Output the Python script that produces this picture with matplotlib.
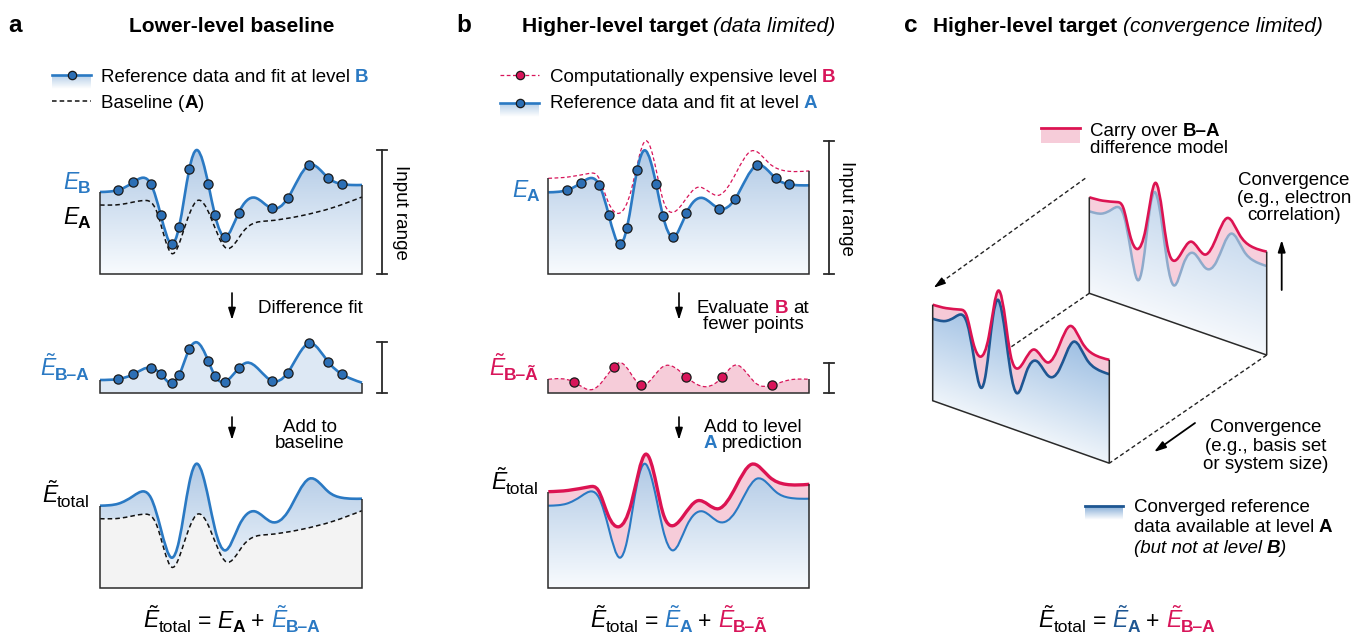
import numpy as np
import matplotlib
matplotlib.use('Agg')
import matplotlib.pyplot as plt
from matplotlib.path import Path
from matplotlib.patches import PathPatch, Rectangle
from matplotlib.transforms import Affine2D
from matplotlib.colors import to_rgb

plt.rcParams['font.family'] = ['Liberation Sans', 'DejaVu Sans']
plt.rcParams['mathtext.fontset'] = 'custom'
plt.rcParams['mathtext.rm'] = 'Liberation Sans'
plt.rcParams['mathtext.it'] = 'Liberation Sans:italic'
plt.rcParams['mathtext.bf'] = 'Liberation Sans:bold'
plt.rcParams['mathtext.sf'] = 'Liberation Sans'

# ---------------- data (u: position along a box, h: height above the box floor) ----
# reference curve (E_B in a, E_A in b, level-A surface in c)
ref_u = [0, 10, 18.3, 33.3, 43.3, 51, 60.7, 71.7, 79, 89.3, 96.7, 103, 108.3, 115,
         125, 138.7, 155, 171.7, 187.7, 209.3, 228.3, 241.7, 252, 262]
ref_h = [82, 82.5, 84, 91.7, 96.3, 89.7, 59.3, 30, 46.7, 104.7, 124, 112, 90, 58.7,
         37.3, 61.3, 76.3, 65.7, 75.7, 109, 96, 90, 89, 89]
# sampled reference points
dot_u = [18.3, 33.3, 51, 60.7, 71.7, 79, 89.3, 108.3, 115, 125, 138.7, 171.7, 187.7,
         209.3, 228.3, 241.7]
dot_h = [84, 91.7, 89.7, 59.3, 30, 46.7, 104.7, 90, 58.7, 37.3, 61.3, 65.7, 75.7,
         109, 96, 90]
# lower-level baseline A (panel a)
base_u = [0, 20, 43.3, 56.7, 71.7, 83.3, 97.5, 110, 126, 143.3, 166.7, 200, 233.3, 262]
base_h = [69, 69.5, 73.5, 62.5, 20.5, 42.5, 73.5, 58.5, 26, 42.5, 53, 58, 66.5, 77]
# difference model B-A (panel a)
diffa_u = [0, 18.3, 33.3, 51, 60.7, 71.7, 79, 89.3, 96.7, 108.3, 115, 125, 138.7,
           146.7, 171.7, 187.7, 209.3, 228.3, 241.7, 262]
diffa_h = [12.7, 13.7, 18.4, 25, 18.7, 9.4, 17.4, 43.4, 50.4, 31.7, 16.7, 11, 24.4,
           30, 12, 20, 49.4, 30.7, 18.7, 10]
diffa_dot_h = [13.7, 18.4, 25, 18.7, 9.4, 17.4, 43.4, 31.7, 16.7, 11, 24.4, 12, 20,
               49.4, 30.7, 18.7]
# expensive level B (panel b / c)
levB_u = [0, 20, 41.7, 50, 60, 71, 83.3, 97.7, 108.3, 115, 122, 135, 150, 171,
          188.3, 204, 221.7, 238.3, 262]
levB_h = [96, 97.3, 101, 97.6, 72.6, 61, 84.3, 133.5, 104.3, 75, 62.5, 71, 87, 79,
          101, 123.4, 111, 103.4, 103.4]
# difference model B - A~ (panel b)
diffb_u = [0, 25.7, 45, 66, 71.7, 92.7, 115, 138.4, 158.4, 174.4, 188.4, 208.4, 225,
           241.7, 262]
diffb_h = [13.4, 10.7, 3.4, 26, 30, 7.7, 26, 16, 6, 15.4, 27.7, 9.4, 7.7, 12.7, 13.4]
diffb_dot_u = [25.7, 66, 92.7, 138.4, 174.4, 225]
diffb_dot_h = [10.7, 26, 7.7, 16, 15.4, 7.7]

# ---------------- styles ----------------
BLUE = '#2a79c3'
BLUE_DOT = '#2c6fb5'
CRIMSON = '#d8155a'
RED = '#dc1352'
PINK = '#f6ccd9'
NAVY = '#1e5692'
EDGE = '#2a2a2a'
W = 262
TS = 13.5     # annotation text size
ES = 16.5     # symbol size
SS = 12.5     # subscript size

fig = plt.figure(figsize=(13.54, 6.37), dpi=100)
ax = fig.add_axes([0, 0, 1, 1])
ax.set_xlim(0, 1354)
ax.set_ylim(637, 0)
ax.axis('off')
R = fig.canvas.get_renderer()


def spline_slopes(u, h):
    """slopes of a natural cubic spline through the read points (rendering only)"""
    u = np.asarray(u, float); h = np.asarray(h, float)
    n = len(u)
    du = np.diff(u); d = np.diff(h) / du
    A = np.zeros((n, n)); b = np.zeros(n)
    A[0, 0] = A[-1, -1] = 1.0
    for i in range(1, n - 1):
        A[i, i - 1] = du[i - 1]; A[i, i] = 2 * (du[i - 1] + du[i]); A[i, i + 1] = du[i]
        b[i] = 6 * (d[i] - d[i - 1])
    M = np.linalg.solve(A, b)
    m = np.zeros(n)
    m[:-1] = d - du * (2 * M[:-1] + M[1:]) / 6
    m[-1] = d[-1] + du[-1] * (M[-2] + 2 * M[-1]) / 6
    return m


def segments(u, h):
    u = np.asarray(u, float); h = np.asarray(h, float)
    m = spline_slopes(u, h)
    segs = []
    for i in range(len(u) - 1):
        du = u[i + 1] - u[i]
        segs.append(((u[i], h[i]), (u[i] + du / 3, h[i] + m[i] * du / 3),
                     (u[i + 1] - du / 3, h[i + 1] - m[i + 1] * du / 3), (u[i + 1], h[i + 1])))
    return segs


def curve_vc(u, h):
    segs = segments(u, h)
    v = [segs[0][0]]; c = [Path.MOVETO]
    for p1, c1, c2, p2 in segs:
        v += [c1, c2, p2]; c += [Path.CURVE4] * 3
    return v, c


def area_path(upper, lower=None):
    uu, uh = upper
    v, c = curve_vc(uu, uh)
    if lower is None:
        v += [(uu[-1], 0), (uu[0], 0), v[0]]
        c += [Path.LINETO, Path.LINETO, Path.CLOSEPOLY]
    else:
        ls = segments(*lower)
        v.append(ls[-1][3]); c.append(Path.LINETO)
        for p1, c1, c2, p2 in reversed(ls):
            v += [c2, c1, p1]; c += [Path.CURVE4] * 3
        v.append(v[0]); c.append(Path.CLOSEPOLY)
    return Path(v, c)


def box_aff(x0, yb, sx=1.0, k=0.0):
    return Affine2D(np.array([[sx, 0, x0], [k * sx, -1, yb], [0, 0, 1.0]]))


def box_tr(x0, yb, sx=1.0, k=0.0):
    return box_aff(x0, yb, sx, k) + ax.transData


def gradient(path, geom, Hmax, c_top, c_bot, z, hmin=0.0):
    x0, yb, sx, k = geom
    tr = box_tr(*geom)
    X0, X1 = x0 - 1, x0 + W * sx + 1
    Yt, Yb = yb - Hmax - 14, yb + k * W * sx + 2
    X = np.linspace(X0, X1, int(X1 - X0) + 2)
    Y = np.linspace(Yt, Yb, int(Yb - Yt) + 2)
    XX, YY = np.meshgrid(X, Y)
    hh = yb + k * (XX - x0) - YY
    t = np.clip((hh - hmin) / (Hmax - hmin), 0, 1)[..., None]
    img = np.array(to_rgb(c_bot)) * (1 - t) + np.array(to_rgb(c_top)) * t
    im = ax.imshow(img, extent=(X0, X1, Yb, Yt), origin='upper',
                   interpolation='bilinear', zorder=z, aspect='auto')
    patch = PathPatch(path, transform=tr, facecolor='none', edgecolor='none')
    ax.add_patch(patch)
    im.set_clip_path(patch)


def fill(path, geom, color, z):
    ax.add_patch(PathPatch(path, transform=box_tr(*geom), facecolor=color,
                           edgecolor='none', zorder=z))


def line(u, h, geom, color, lw, ls='-', z=3):
    v, c = curve_vc(u, h)
    ax.add_patch(PathPatch(Path(v, c), transform=box_tr(*geom), facecolor='none',
                           edgecolor=color, lw=lw, linestyle=ls, zorder=z,
                           capstyle='butt', joinstyle='round'))


def outline(geom, hl, hr, z=4, lw=1.1):
    p = Path([(0, hl), (0, 0), (W, 0), (W, hr)],
             [Path.MOVETO, Path.LINETO, Path.LINETO, Path.LINETO])
    ax.add_patch(PathPatch(p, transform=box_tr(*geom), facecolor='none',
                           edgecolor=EDGE, lw=lw, zorder=z, joinstyle='miter'))


def dots(u, h, geom, face, z=6):
    ax.plot(u, h, 'o', transform=box_tr(*geom), ms=6.6, mfc=face, mec='#1a1a1a',
            mew=0.9, zorder=z, clip_on=False)


def measure(s, **kw):
    t = ax.text(0, 0, s, **kw)
    w = t.get_window_extent(renderer=R).width
    t.remove()
    return w


def rich(x, y, pieces, ha='left', size=TS):
    items = []
    total = 0.0
    for s, kw in pieces:
        kw = dict(kw); kw.setdefault('fontsize', size)
        dy = kw.pop('dy', 0.0)
        dx = kw.pop('dx', 0.0)
        core = s.strip(' ')
        lead = len(s) - len(s.lstrip(' ')); trail = len(s) - len(s.rstrip(' '))
        sw = 0.0
        if lead or trail:
            mk = {k: v for k, v in kw.items() if k != 'color'}
            sw = measure('| |', **mk) - measure('||', **mk)
        w = measure(core, **kw) if core else 0.0
        items.append((core, kw, dy, dx + lead * sw, w, trail * sw))
        total += dx + lead * sw + w + trail * sw
    cx = x - total / 2 if ha == 'center' else (x - total if ha == 'right' else x)
    for core, kw, dy, l, w, t in items:
        cx += l
        if core:
            ax.text(cx, y + dy, core, ha='left', va='baseline', **kw)
        cx += w + t


def sym(tilde, sub, color='black', bold=True):
    """pieces for an energy symbol E / E~ with a subscript"""
    e = r'$\tilde{E}$' if tilde else r'$E$'
    return [(e, dict(color=color, fontsize=ES)),
            (sub, dict(color=color, fontsize=SS, fontweight='bold' if bold else 'normal',
                       dy=4.0, dx=-2.5))]


def grad_rect(x0, x1, y0, y1, c_top, c_bot, z=2):
    n = 20
    t = np.linspace(1, 0, n)[:, None, None]
    img = np.array(to_rgb(c_bot)) * (1 - t) + np.array(to_rgb(c_top)) * t
    img = np.repeat(img, 2, axis=1)
    ax.imshow(img, extent=(x0, x1, y1, y0), origin='upper', interpolation='bilinear',
              zorder=z, aspect='auto')


def arrow(x0, y0, x1, y1, lw=1.2, ls='-'):
    ax.annotate('', xy=(x1, y1), xytext=(x0, y0),
                arrowprops=dict(arrowstyle='-|>,head_length=0.7,head_width=0.22',
                                color='black', lw=lw, linestyle=ls, shrinkA=0, shrinkB=0))


def bracket(x, ytop, ybot):
    ax.plot([x, x], [ytop, ybot], color=EDGE, lw=1.3)
    ax.plot([x - 5, x + 5], [ytop, ytop], color=EDGE, lw=1.3)
    ax.plot([x - 5, x + 5], [ybot, ybot], color=EDGE, lw=1.3)


GT, GB = '#b0c9e5', '#f8fbfe'
DASH = (0, (3.0, 2.0))

# ===================== panel a =====================
ga1 = (100, 274, 1.0, 0.0)
gradient(area_path((ref_u, ref_h)), ga1, 125, GT, GB, 1)
line(base_u, base_h, ga1, '#111111', 1.1, DASH)
line(ref_u, ref_h, ga1, BLUE, 1.9)
dots(dot_u, dot_h, ga1, BLUE_DOT)
outline(ga1, ref_h[0], ref_h[-1])
bracket(382, 274 - max(ref_h), 274)

ga2 = (100, 392.7, 1.0, 0.0)
fill(area_path((diffa_u, diffa_h)), ga2, '#dde8f4', 1)
line(diffa_u, diffa_h, ga2, BLUE, 1.9)
dots(dot_u, diffa_dot_h, ga2, BLUE_DOT)
outline(ga2, diffa_h[0], diffa_h[-1])
bracket(382, 392.7 - max(diffa_h), 392.7)

ga3 = (100, 587.7, 1.0, 0.0)
fill(area_path((base_u, base_h)), ga3, '#f3f3f3', 1)
gradient(area_path((ref_u, ref_h), (base_u, base_h)), ga3, 125, GT, GB, 1)
line(base_u, base_h, ga3, '#111111', 1.1, DASH)
line(ref_u, ref_h, ga3, BLUE, 1.9)
outline(ga3, ref_h[0], ref_h[-1])

# ===================== panel b =====================
sb = 261.0 / 262.0
gb1 = (548.3, 274.3, sb, 0.0)
gradient(area_path((ref_u, ref_h)), gb1, 125, GT, GB, 1)
line(levB_u, levB_h, gb1, CRIMSON, 0.9, DASH)
line(ref_u, ref_h, gb1, BLUE, 1.9)
dots(dot_u, dot_h, gb1, BLUE_DOT)
outline(gb1, levB_h[0], levB_h[-1])
bracket(828.5, 274.3 - max(levB_h), 274.3)

gb2 = (548.3, 392.7, sb, 0.0)
fill(area_path((diffb_u, diffb_h)), gb2, PINK, 1)
line(diffb_u, diffb_h, gb2, CRIMSON, 0.9, DASH)
dots(diffb_dot_u, diffb_dot_h, gb2, CRIMSON)
outline(gb2, diffb_h[0], diffb_h[-1])
bracket(829, 392.7 - max(diffb_h), 392.7)

gb3 = (548.3, 587.7, sb, 0.0)
gradient(area_path((ref_u, ref_h)), gb3, 125, GT, GB, 1)
fill(area_path((levB_u, levB_h), (ref_u, ref_h)), gb3, PINK, 2)
line(ref_u, ref_h, gb3, BLUE, 1.5)
line(levB_u, levB_h, gb3, RED, 2.4)
outline(gb3, levB_h[0], levB_h[-1])

# ===================== panel c =====================
gback = (1089.3, 293.3, 177.4 / 262.0, 0.348)
gfront = (932.7, 400.7, 176.6 / 262.0, 0.354)

gradient(area_path((ref_u, ref_h)), gback, 125, '#c3d7ed', '#f5f8fc', 1)
fill(area_path((levB_u, levB_h), (ref_u, ref_h)), gback, '#f7cfdc', 2)
line(ref_u, ref_h, gback, '#8eaacb', 1.8)
line(levB_u, levB_h, gback, RED, 1.9)
outline(gback, levB_h[0], levB_h[-1])

ab = box_aff(*gback); af = box_aff(*gfront)
bl_b, br_b = ab.transform((0, 0)), ab.transform((W, 0))
bl_f, br_f = af.transform((0, 0)), af.transform((W, 0))
tl_b, tl_f = ab.transform((0, levB_h[0])), af.transform((0, levB_h[0]))
ax.plot([bl_b[0], bl_f[0]], [bl_b[1], bl_f[1]], color='#222222', lw=1.0, ls=DASH, zorder=3)
ax.plot([br_b[0], br_f[0]], [br_b[1], br_f[1]], color='#222222', lw=1.0, ls=DASH, zorder=3)
s0 = (tl_b[0] - 4, tl_b[1] - 19)
e0 = (tl_f[0] + 1, tl_f[1] - 17)
ax.plot([s0[0], e0[0] + 8], [s0[1], e0[1] - 5.8], color='#222222', lw=1.0, ls=DASH, zorder=3)
arrow(e0[0] + 10, e0[1] - 7.2, e0[0], e0[1], lw=1.0)

gradient(area_path((ref_u, ref_h)), gfront, 125, '#93b8e0', '#eef4fa', 5)
fill(area_path((levB_u, levB_h), (ref_u, ref_h)), gfront, '#f5c9d7', 6)
line(ref_u, ref_h, gfront, NAVY, 1.9, z=7)
line(levB_u, levB_h, gfront, RED, 1.9, z=7)
outline(gfront, levB_h[0], levB_h[-1], z=8)

arrow(1281.7, 290, 1281.7, 240, lw=1.3)
arrow(1195, 423, 1154, 452, lw=1.3)

# ===================== arrows a/b =====================
arrow(232, 293, 232, 320)
arrow(232, 417, 232, 440)
arrow(679, 293, 679, 320)
arrow(679, 417, 679, 440)

# ===================== legends =====================
# panel a
grad_rect(52, 91, 76, 89, '#bcd3ea', '#ffffff')
ax.plot([52, 91], [75, 75], color=BLUE, lw=1.9, zorder=3)
ax.plot([71.5], [75], 'o', ms=6.0, mfc=BLUE_DOT, mec='#1a1a1a', mew=0.9, zorder=4)
ax.plot([52, 91], [101, 101], color='#111111', lw=1.1, ls=DASH)
rich(101, 82, [('Reference data and fit at level ', {}),
               ('B', dict(color=BLUE, fontweight='bold'))])
rich(101, 108, [('Baseline (', {}), ('A', dict(fontweight='bold')), (')', {})])

# panel b
ax.plot([500, 539], [75, 75], color=CRIMSON, lw=0.9, ls=DASH)
ax.plot([519.5], [75], 'o', ms=6.0, mfc=CRIMSON, mec='#1a1a1a', mew=0.9, zorder=4)
grad_rect(500, 539, 104, 117, '#bcd3ea', '#ffffff')
ax.plot([500, 539], [103, 103], color=BLUE, lw=1.9, zorder=3)
ax.plot([519.5], [103], 'o', ms=6.0, mfc=BLUE_DOT, mec='#1a1a1a', mew=0.9, zorder=4)
rich(549.5, 82, [('Computationally expensive level ', {}),
                 ('B', dict(color=CRIMSON, fontweight='bold'))])
rich(549.5, 108, [('Reference data and fit at level ', {}),
                  ('A', dict(color=BLUE, fontweight='bold'))])

# panel c
ax.add_patch(Rectangle((1041, 129.5), 39, 13, facecolor=PINK, edgecolor='none'))
ax.plot([1041, 1080], [128, 128], color=RED, lw=2.0)
rich(1089.5, 136, [('Carry over ', {}), ('B–A', dict(fontweight='bold'))])
rich(1089.5, 153, [('difference model', {})])

grad_rect(1085, 1123, 507, 520, '#8fb3da', '#ffffff')
ax.plot([1085, 1123], [505.7, 505.7], color=NAVY, lw=2.0, zorder=3)
rich(1133.5, 512, [('Converged reference', {})])
rich(1133.5, 532, [('data available at level ', {}), ('A', dict(fontweight='bold'))])
rich(1133.5, 553, [('(but not at level ', dict(fontstyle='italic')),
                   ('B', dict(fontstyle='italic', fontweight='bold')),
                   (')', dict(fontstyle='italic'))])

# ===================== titles =====================
for x, s in [(8, 'a'), (456, 'b'), (904, 'c')]:
    ax.text(x, 32, s, fontsize=17.5, fontweight='bold', va='baseline', ha='left')
rich(232, 32, [('Lower-level baseline', dict(fontweight='bold'))], ha='center', size=15)
rich(521.5, 32, [('Higher-level target ', dict(fontweight='bold')),
                 ('(data limited)', dict(fontstyle='italic'))], size=15.2)
rich(933, 32, [('Higher-level target ', dict(fontweight='bold')),
               ('(convergence limited)', dict(fontstyle='italic'))], size=15)

# ===================== annotations =====================
ax.text(400, 212, 'Input range', rotation=270, ha='center', va='center', fontsize=TS)
ax.text(847, 208, 'Input range', rotation=270, ha='center', va='center', fontsize=TS)
rich(258, 313, [('Difference fit', {})])
rich(310, 432, [('Add to', {})], ha='center')
rich(310, 448, [('baseline', {})], ha='center')
rich(753, 313, [('Evaluate ', {}), ('B', dict(color=CRIMSON, fontweight='bold')),
                (' at', {})], ha='center')
rich(753, 329, [('fewer points', {})], ha='center')
rich(753, 432, [('Add to level', {})], ha='center')
rich(753, 448, [('A', dict(color=BLUE, fontweight='bold')), (' prediction', {})], ha='center')
rich(1294, 185, [('Convergence', {})], ha='center')
rich(1294, 203, [('(e.g., electron', {})], ha='center')
rich(1294, 220, [('correlation)', {})], ha='center')
rich(1266, 432, [('Convergence', {})], ha='center')
rich(1266, 451, [('(e.g., basis set', {})], ha='center')
rich(1266, 469, [('or system size)', {})], ha='center')

# axis-style labels
rich(90, 189, sym(False, 'B', BLUE), ha='right')
rich(90, 224, sym(False, 'A', 'black'), ha='right')
rich(90, 376, sym(True, 'B–A', BLUE), ha='right')
rich(90, 503, sym(True, 'total', 'black', bold=False), ha='right')
rich(539, 197, sym(False, 'A', BLUE), ha='right')
rich(539, 376, sym(True, 'B–Ã', CRIMSON), ha='right')
rich(539, 490, sym(True, 'total', 'black', bold=False), ha='right')

# formulas
EQ = dict(fontsize=ES)
rich(232, 628, sym(True, 'total', bold=False) + [(' = ', EQ)] + sym(False, 'A')
     + [(' + ', EQ)] + sym(True, 'B–A', BLUE), ha='center')
rich(679, 628, sym(True, 'total', bold=False) + [(' = ', EQ)] + sym(True, 'A', BLUE)
     + [(' + ', EQ)] + sym(True, 'B–Ã', CRIMSON), ha='center')
rich(1127, 628, sym(True, 'total', bold=False) + [(' = ', EQ)] + sym(True, 'A', NAVY)
     + [(' + ', EQ)] + sym(True, 'B–A', CRIMSON), ha='center')

ax.set_xlim(0, 1354)
ax.set_ylim(637, 0)
fig.savefig('out.png', dpi=100)
